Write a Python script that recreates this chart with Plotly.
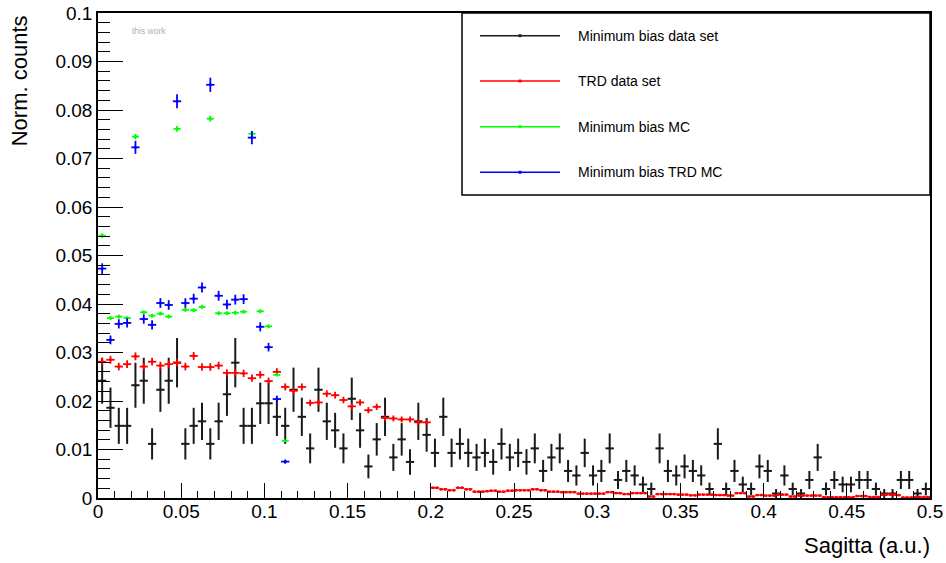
import numpy as np
import plotly.graph_objects as go

# ---------------- data ----------------
# Minimum bias data set: 100 bins of width 0.005 on [0, 0.5], raw counts and normalisation
black_counts = [26, 20, 16, 16, 25, 26, 12, 24, 26, 30,
                12, 16, 17, 12, 17, 23, 30, 16, 16, 21,
                21, 18, 16, 24, 18, 11, 24, 17, 15, 11,
                22, 15, 7, 13, 18, 9, 13, 8, 17, 14,
                10, 18, 10, 12, 10, 9, 10, 8, 12, 9,
                10, 8, 11, 6, 9, 11, 6, 5, 10, 5,
                6, 11, 4, 6, 5, 3, 2, 11, 6, 5,
                7, 6, 5, 2, 12, 2, 6, 3, 2, 7,
                6, 1, 5, 2, 1, 4, 9, 2, 4, 3,
                3, 4, 4, 2, 1, 1, 4, 4, 1, 2]
black_norm = 0.00093
black_bin = 0.005

# TRD data set: 0.005 bins up to 0.2, then 0.0025 bins up to 0.5
red_values_low = [0.0281, 0.0285, 0.0271, 0.0276, 0.0292, 0.0271, 0.0281, 0.0273, 0.0276, 0.0279,
                  0.0271, 0.0293, 0.0270, 0.0270, 0.0273, 0.0258, 0.0258, 0.0257, 0.0247, 0.0254,
                  0.0241, 0.0260, 0.0229, 0.0221, 0.0229, 0.0196, 0.0197, 0.0215, 0.0212, 0.0202,
                  0.0189, 0.0197, 0.0181, 0.0188, 0.0165, 0.0164, 0.0162, 0.0162, 0.0156, 0.0156]
red_values_tail = [0.0021, 0.0021, 0.0018, 0.0018, 0.0016, 0.0016, 0.0021, 0.0021, 0.0018, 0.0018,
                   0.0013, 0.0013, 0.0013, 0.0014, 0.0015, 0.0015, 0.0013, 0.0013, 0.0015,
                   0.0015, 0.0016, 0.0016, 0.0016, 0.0016, 0.0018, 0.0018, 0.0016, 0.0016, 0.0013,
                   0.0013, 0.0013, 0.0012, 0.0012, 0.0012, 0.0012, 0.0009, 0.0009, 0.0009, 0.0009,
                   0.0009, 0.0009, 0.0009, 0.0012, 0.0012, 0.0010, 0.0010, 0.0008, 0.0008, 0.0010,
                   0.0010, 0.0010, 0.0010, 0.0003, 0.0003, 0.0008, 0.0008, 0.0008, 0.0008, 0.0008,
                   0.0007, 0.0007, 0.0007, 0.00055, 0.00055, 0.0007, 0.0007, 0.0007, 0.0007,
                   0.0006, 0.0006, 0.0006, 0.0005, 0.0005, 0.0010, 0.0010, 0.0010, 0.0003, 0.0003,
                   0.0006, 0.0006, 0.0005, 0.0005, 0.0005, 0.0007, 0.0007, 0.0007, 0.0003, 0.0003,
                   0.0005, 0.0005, 0.0005, 0.0005, 0.0005, 0.0005, 0.00015, 0.00015, 0.00015, 0.00015,
                   0.00015, 0.00015, 0.00015, 0.00015, 0.0004, 0.0004, 0.0004, 0.0002, 0.0002, 0.0002,
                   0.0007, 0.0007, 0.0007, 0.0007, 0.0006, 0.0001, 0.0001, 0.0001, 0.0002, 0.0002,
                   0.0002, 0.0002]
red_bin_low = 0.005
red_bin_tail = 0.0025
red_tail_start = 0.2
red_err_scale = 2.3e-5

# Monte Carlo samples: 0.005 bins from 0 to 0.115
green_values = [0.0541, 0.0371, 0.0374, 0.0371, 0.0745, 0.0383, 0.0376, 0.0380, 0.0374, 0.0761,
                0.0388, 0.0387, 0.0394, 0.0782, 0.0381, 0.0381, 0.0382, 0.0384, 0.0751, 0.0385,
                0.0354, 0.0254, 0.0118]
blue_values = [0.0473, 0.0326, 0.0359, 0.0361, 0.0723, 0.0369, 0.0357, 0.0402, 0.0398, 0.0818,
               0.0402, 0.0411, 0.0434, 0.0852, 0.0417, 0.0399, 0.0409, 0.0410, 0.0743, 0.0353,
               0.0311, 0.0204, 0.0075]
mc_bin = 0.005
green_err_scale = 4.5e-6
blue_err_scale = 2.5e-5

series_names = ["Minimum bias data set", "TRD data set", "Minimum bias MC", "Minimum bias TRD MC"]
series_colors = ["#1a1a1a", "#ff0000", "#00ff00", "#0000ff"]

x_ticks = [0, 0.05, 0.1, 0.15, 0.2, 0.25, 0.3, 0.35, 0.4, 0.45, 0.5]
x_title = "Sagitta (a.u.)"
y_title = "Norm. counts"
tag_text = "this work"

# ---------------- derived ----------------
bc = np.array(black_counts, dtype=float)
black_x = (np.arange(len(bc)) + 0.5) * black_bin
black_y = bc * black_norm
black_err = np.sqrt(bc) * black_norm

red_low = np.array(red_values_low)
red_tail = np.array(red_values_tail)
red_x = np.concatenate([(np.arange(len(red_low)) + 0.5) * red_bin_low,
                        red_tail_start + (np.arange(len(red_tail)) + 0.5) * red_bin_tail])
red_y = np.concatenate([red_low, red_tail])
red_ex = np.concatenate([np.full(len(red_low), red_bin_low / 2), np.full(len(red_tail), red_bin_tail / 2)])
red_ey = np.sqrt(red_y * red_err_scale)

gv = np.array(green_values)
bv = np.array(blue_values)
mc_x = (np.arange(len(gv)) + 0.5) * mc_bin

fig = go.Figure()

def add_series(x, y, ex, ey, color, name, width=2.0, msize=2.5):
    fig.add_trace(go.Scatter(
        x=x, y=y, mode="markers", name=name,
        marker=dict(color=color, size=msize, symbol="square"),
        error_x=dict(type="data", array=ex, symmetric=True, color=color, thickness=width, width=0),
        error_y=dict(type="data", array=ey, symmetric=True, color=color, thickness=width, width=0),
        showlegend=False, hoverinfo="x+y"))

add_series(black_x, black_y, np.full(len(black_x), black_bin / 2), black_err, series_colors[0], series_names[0], 2.0, 2)
add_series(red_x, red_y, red_ex, red_ey, series_colors[1], series_names[1], 1.8, 2.5)
add_series(mc_x, gv, np.full(len(mc_x), mc_bin / 2 * 0.85), np.sqrt(gv * green_err_scale), series_colors[2], series_names[2], 1.8, 2.5)
add_series(mc_x, bv, np.full(len(mc_x), mc_bin / 2), np.sqrt(bv * blue_err_scale), series_colors[3], series_names[3], 1.8, 2.5)

FONT = "Liberation Sans, Arial, sans-serif"

fig.update_layout(
    width=946, height=563,
    margin=dict(l=98, r=16, t=13, b=65),
    paper_bgcolor="white", plot_bgcolor="white",
    font=dict(family=FONT, color="black"),
    showlegend=False,
    xaxis=dict(range=[0, 0.5], tickvals=x_ticks, ticktext=[f"{v:g}" for v in x_ticks],
               ticks="inside", ticklen=15, tickwidth=1, tickcolor="black",
               minor=dict(dtick=0.01, ticks="inside", ticklen=7, tickcolor="black", tickwidth=1),
               showline=True, linecolor="black", linewidth=1.5, mirror=True,
               showgrid=False, zeroline=False, tickfont=dict(size=19), automargin=False,
               ticklabelstandoff=-5),
    yaxis=dict(range=[0, 0.1], dtick=0.01, tick0=0,
               ticks="inside", ticklen=25, tickwidth=1, tickcolor="black",
               minor=dict(dtick=0.002, ticks="inside", ticklen=12, tickcolor="black", tickwidth=1),
               showline=True, linecolor="black", linewidth=1.5, mirror=True,
               showgrid=False, zeroline=False, tickfont=dict(size=19), automargin=False),
)

# axis titles
fig.add_annotation(text=x_title, xref="paper", yref="paper", x=1.003, y=-0.097,
                   xanchor="right", yanchor="middle", showarrow=False, font=dict(size=22))
fig.add_annotation(text=y_title, xref="paper", yref="paper", x=-0.094, y=1.0,
                   xanchor="center", yanchor="top", textangle=-90, showarrow=False, font=dict(size=22))
fig.add_annotation(text=tag_text, xref="paper", yref="paper", x=0.0385, y=0.963,
                   xanchor="left", yanchor="middle", showarrow=False, font=dict(size=8.5, color="#b0b0b0"))

# legend box drawn manually (ROOT style)
fig.add_shape(type="rect", xref="paper", yref="paper", x0=0.4375, x1=1.0, y0=0.6247, y1=1.0,
              line=dict(color="black", width=1.5), fillcolor="white", layer="above")
leg_y = [0.9532, 0.8598, 0.7656, 0.6716]
for name, col, yy in zip(series_names, series_colors, leg_y):
    fig.add_shape(type="line", xref="paper", yref="paper", x0=0.4591, x1=0.5553, y0=yy, y1=yy,
                  line=dict(color=col, width=1.5), layer="above")
    fig.add_shape(type="rect", xref="paper", yref="paper", x0=0.5072 - 0.0018, x1=0.5072 + 0.0018,
                  y0=yy - 0.003, y1=yy + 0.003, line=dict(color=col, width=0), fillcolor=col, layer="above")
    fig.add_annotation(text=name, xref="paper", yref="paper", x=0.5745, y=yy,
                       xanchor="left", yanchor="middle", showarrow=False, font=dict(size=14))

fig.write_html("out.html")
